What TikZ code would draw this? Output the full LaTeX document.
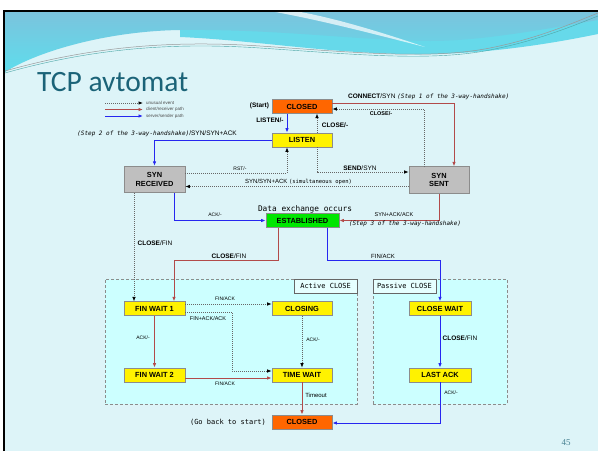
\documentclass[tikz,border=0pt]{standalone}
\usepackage{fontspec}
\setmainfont{Liberation Sans}
\newfontfamily\monofont{DejaVu Sans Mono}
\newfontfamily\titlefont{Carlito}
\newfontfamily\numfont{Liberation Serif}
\usetikzlibrary{arrows.meta}

\definecolor{slidebg}{HTML}{DDF4F8}
\definecolor{wavetop}{HTML}{7BC3DD}
\definecolor{wavebot}{HTML}{5EDDEC}
\definecolor{wavecyan}{HTML}{66D9EA}
\definecolor{titleblue}{HTML}{1B6378}
\definecolor{clientred}{HTML}{B24A4A}
\definecolor{serverblue}{HTML}{2626F0}
\definecolor{zonefill}{HTML}{CCFFFF}
\definecolor{closedorange}{HTML}{FF6600}
\definecolor{estgreen}{HTML}{00E600}

\newcommand{\steptext}[1]{{\monofont\itshape\fontsize{6}{7}\selectfont #1}}
\newcommand{\openmono}[1]{{\monofont\fontsize{5.5}{6.5}\selectfont #1}}

\begin{document}
\begin{tikzpicture}[x=1pt,y=-1pt,
	>={Latex[length=4.5pt,width=3.5pt]},
	state/.style={draw=black!45, line width=0.7pt, inner sep=0pt, minimum width=61pt, minimum height=13.5pt, font=\fontsize{7.4}{8.5}\selectfont\bfseries},
	yellowst/.style={state, fill=yellow},
	closedst/.style={state, fill=closedorange, minimum width=60pt},
	synst/.style={state, fill=black!25, minimum height=26.5pt, align=center},
	client/.style={->, clientred, line width=1pt},
	server/.style={->, serverblue, line width=1pt},
	unusual/.style={-{Latex[length=4.5pt,width=3.5pt,color=black]}, black!60, line width=0.7pt, dash pattern=on 0.8pt off 1.2pt},
	zone/.style={draw=black!45, dash pattern=on 3pt off 2pt, line width=0.8pt, fill=zonefill, inner sep=0pt},
	zonetag/.style={draw=black!60, line width=0.6pt, fill=zonefill!50!white, inner sep=0pt, minimum width=63pt, minimum height=14pt, font=\monofont\fontsize{7}{8}\selectfont},
	lbl/.style={inner sep=0pt, font=\fontsize{6.5}{7.5}\selectfont},
	boldlbl/.style={inner sep=0pt, font=\fontsize{6.5}{7.5}\selectfont\bfseries},
	tinylbl/.style={inner sep=0pt, font=\fontsize{5}{6}\selectfont},
	monolbl/.style={inner sep=0pt, font=\monofont\fontsize{7}{8}\selectfont},
	legend/.style={inner sep=0pt, anchor=west, text=black!70, font=\fontsize{4.5}{5}\selectfont}]
	\useasboundingbox (0,0) rectangle (598,451);

	%slide background
	\fill[slidebg] (5,11) rectangle (598,451);
	\fill[wavecyan] (180,11) -- (598,11) -- (598,34) .. controls (540,46) and (470,56) .. (400,54) .. controls (320,52) and (250,40) .. (180,37) -- cycle;
	\shade[top color=wavetop, bottom color=wavebot] (5,11) -- (598,11) -- (598,20) .. controls (540,30) and (480,41) .. (430,41) .. controls (350,40) and (280,29) .. (180,30) .. controls (110,31) and (40,50) .. (5,72) -- cycle;
	\fill[white,opacity=.7] (270,11) .. controls (320,20) and (370,33) .. (425,47) .. controls (375,30) and (330,17) .. (295,11) -- cycle;
	\draw[black!40, line width=0.5pt] (5,71) .. controls (90,47) and (170,40) .. (260,46) .. controls (350,52) and (430,60) .. (490,48) .. controls (540,38) and (575,22) .. (598,13);
	\draw[teal!70, line width=0.4pt] (5,73) .. controls (90,49) and (170,42) .. (260,48) .. controls (350,54) and (430,62) .. (490,50) .. controls (540,40) and (575,25) .. (598,16);
	\draw[black, line width=2.5pt] (4,451) -- (4,11) -- (598,11);

	\node[anchor=base west, inner sep=0pt, text=titleblue, font=\titlefont\fontsize{29.5}{30}\selectfont] (title) at (37,91) {TCP avtomat};
	\node[text=titleblue!80, font=\numfont\fontsize{9}{10}\selectfont] (pagenum) at (566,443) {45};

	%legend
	\coordinate (lgA) at (105,103); \coordinate (lgAend) at (143,103);
	\coordinate (lgB) at (105,109.5); \coordinate (lgBend) at (143,109.5);
	\coordinate (lgC) at (105,116); \coordinate (lgCend) at (143,116);
	\draw[unusual] (lgA) -- (lgAend);
	\draw[client] (lgB) -- (lgBend);
	\draw[server] (lgC) -- (lgCend);
	\node[legend] (lgAtext) at (146,103) {unusual event};
	\node[legend] (lgBtext) at (146,109.5) {client/receiver path};
	\node[legend] (lgCtext) at (146,116) {server/sender path};

	%closing areas
	\node[zone, minimum width=252pt, minimum height=125pt] (activezone) at (231,341.5) {};
	\node[zonetag, anchor=north east] (activetag) at (activezone.north east) {Active CLOSE};
	\node[zone, minimum width=134pt, minimum height=125pt] (passivezone) at (440,341.5) {};
	\node[zonetag, anchor=north west] (passivetag) at (passivezone.north west) {Passive CLOSE};

	%states
	\node[closedst] (closedA) at (302,106.5) {CLOSED};
	\node[yellowst, minimum width=60pt, minimum height=14pt] (listen) at (302,140) {LISTEN};
	\node[synst] (synrcvd) at (154.5,179.5) {SYN\\RECEIVED};
	\node[synst, minimum width=60pt] (synsent) at (439,180) {SYN\\SENT};
	\node[state, fill=estgreen, minimum width=73pt] (estab) at (302.5,220.5) {ESTABLISHED};
	\node[yellowst] (finwaitA) at (154.5,308.5) {FIN WAIT 1};
	\node[yellowst, minimum width=60pt] (closing) at (302,308.5) {CLOSING};
	\node[yellowst, minimum height=14pt] (finwaitB) at (154.5,375) {FIN WAIT 2};
	\node[yellowst, minimum width=60pt, minimum height=14pt] (timewait) at (302,375) {TIME WAIT};
	\node[closedst, minimum height=14pt] (closedB) at (302,422) {CLOSED};
	\node[yellowst, minimum width=62pt] (closewait) at (440,308.5) {CLOSE WAIT};
	\node[yellowst, minimum width=62pt, minimum height=14pt] (lastack) at (440,375) {LAST ACK};

	%opening
	\draw[server] ([xshift=-15pt]closedA.south) -- ([xshift=-15pt]listen.north);
	\draw[unusual] ([xshift=15pt]listen.north) -- ([xshift=15pt]closedA.south);
	\draw[unusual] ([xshift=15pt]listen.south) |- ([yshift=8pt]synsent.west);
	\draw[client] ([yshift=3.5pt]closedA.east) -| ([xshift=15pt]synsent.north);
	\draw[unusual] ([xshift=-15pt]synsent.north) |- ([yshift=-2.5pt]closedA.east);
	\draw[server] (listen.west) -| (synrcvd.north);
	\draw[unusual] ([yshift=6.5pt]synrcvd.east) -| ([xshift=-15pt]listen.south);
	\draw[unusual] ([yshift=-6.5pt]synsent.west) -- ([yshift=-7pt]synrcvd.east);
	\draw[server] ([xshift=19.5pt]synrcvd.south) |- (estab.west);
	\draw[client] (synsent.south) |- (estab.east);

	%closing
	\draw[unusual] ([xshift=-20.5pt]synrcvd.south) -- ([xshift=-20.5pt]finwaitA.north);
	\draw[client] ([xshift=-24.5pt]estab.south) -- ++(0,33) -| ([xshift=19.5pt]finwaitA.north);
	\draw[server] ([xshift=24.5pt]estab.south) -- ++(0,33) -| (closewait.north);
	\draw[unusual] ([yshift=4.5pt]finwaitA.east) -- ([yshift=4.5pt]closing.west);
	\draw[unusual] ([yshift=-3.5pt]finwaitA.east) -- ++(47,0) |- ([yshift=4pt]timewait.west);
	\draw[client] (finwaitA.south) -- (finwaitB.north);
	\draw[client] ([yshift=-3pt]finwaitB.east) -- ([yshift=-3pt]timewait.west);
	\draw[unusual] (closing.south) -- (timewait.north);
	\draw[client] (timewait.south) -- (closedB.north);
	\draw[server] (closewait.south) -- (lastack.north);
	\draw[server] (lastack.south) |- ([yshift=-1pt]closedB.east);

	%labels
	\node[boldlbl] (startlbl) at (259.5,106) {(Start)};
	\node[boldlbl] (listenlbl) at (270,120) {LISTEN/-};
	\node[boldlbl] (closelblA) at (335,125) {CLOSE/-};
	\node[lbl, anchor=west] (connectlbl) at (348,97) {\textbf{CONNECT}/SYN \steptext{(Step 1 of the 3-way-handshake)}};
	\node[boldlbl, font=\fontsize{5.5}{6.5}\selectfont\bfseries] (closelblB) at (381,114) {CLOSE/-};
	\node[lbl] (sendlbl) at (360,168) {\textbf{SEND}/SYN};
	\node[lbl, anchor=east] (steptwolbl) at (237,134) {\steptext{(Step 2 of the 3-way-handshake)}/SYN/SYN+ACK};
	\node[tinylbl] (rstlbl) at (240,169) {RST/-};
	\node[lbl, anchor=west, font=\fontsize{6}{7}\selectfont] (simlbl) at (245,182) {SYN/SYN+ACK \openmono{(simultaneous open)}};
	\node[monolbl, font=\monofont\fontsize{7.8}{9}\selectfont] (datalbl) at (305,209) {Data exchange occurs};
	\node[tinylbl] (acklblA) at (215,215) {ACK/-};
	\node[tinylbl, font=\fontsize{5.5}{6.5}\selectfont] (synacklbl) at (394,215) {SYN+ACK/ACK};
	\node[inner sep=0pt, font=\monofont\itshape\fontsize{6}{7}\selectfont] (stepthreelbl) at (405,224) {(Step 3 of the 3-way-handshake)};
	\node[lbl] (closefinlblA) at (155,243) {\textbf{CLOSE}/FIN};
	\node[lbl] (closefinlblB) at (229,256) {\textbf{CLOSE}/FIN};
	\node[lbl, font=\fontsize{6}{7}\selectfont] (finacklblA) at (383,256) {FIN/ACK};
	\node[tinylbl] (finacklblB) at (225,299) {FIN/ACK};
	\node[tinylbl, font=\fontsize{5.5}{6.5}\selectfont] (finfinlbl) at (208,319) {FIN+ACK/ACK};
	\node[tinylbl] (acklblB) at (143,338) {ACK/-};
	\node[tinylbl] (finacklblC) at (225,384) {FIN/ACK};
	\node[tinylbl] (acklblC) at (313,340) {ACK/-};
	\node[lbl, font=\fontsize{6}{7}\selectfont] (timeoutlbl) at (316,395) {Timeout};
	\node[lbl] (closefinlblC) at (460,338) {\textbf{CLOSE}/FIN};
	\node[tinylbl] (acklblD) at (451,393) {ACK/-};
	\node[monolbl] (backlbl) at (228,422.5) {(Go back to start)};
\end{tikzpicture}
\end{document}
